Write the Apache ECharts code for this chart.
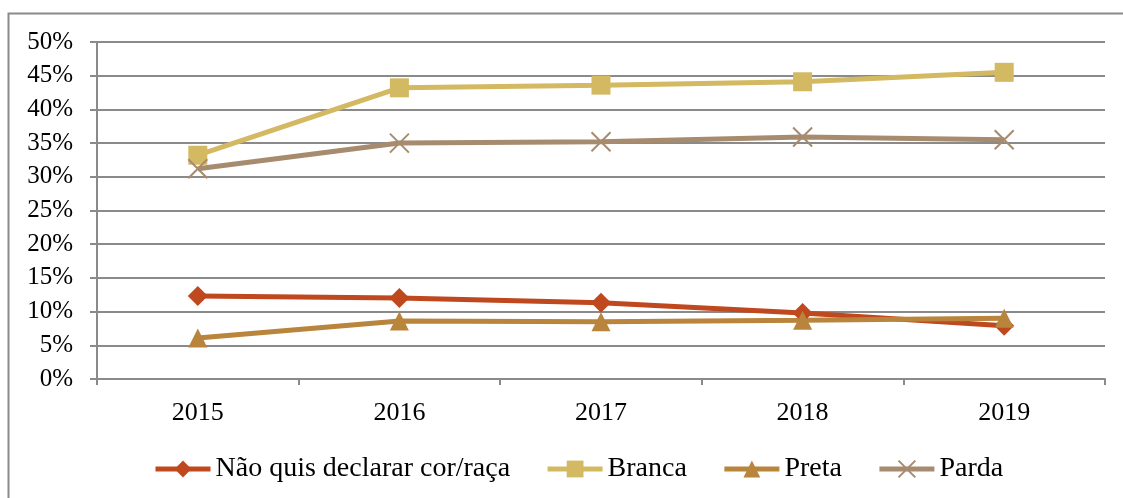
<!DOCTYPE html>
<html><head><meta charset="utf-8">
<script src="https://cdn.jsdelivr.net/npm/echarts@6/dist/echarts.min.js"></script>
<style>html,body{margin:0;padding:0;background:#fff}#c{width:1123px;height:498px}</style>
</head><body><div id="c"></div>
<script>
const categories = ['2015','2016','2017','2018','2019'];
const naoQuis = [12.3, 12.0, 11.3, 9.8, 7.9];
const branca = [33.2, 43.2, 43.6, 44.1, 45.5];
const preta = [6.1, 8.6, 8.5, 8.7, 9.0];
const parda = [31.2, 35.0, 35.2, 35.9, 35.5];
const seriesNames = ['Não quis declarar cor/raça','Branca','Preta','Parda'];
const yTicks = [0,5,10,15,20,25,30,35,40,45,50];

const font = '"Liberation Serif", "Times New Roman", serif';
const chart = echarts.init(document.getElementById('c'));
function mk(name, data, color, symbol, size, extra) {
  return Object.assign({
    name, type: 'line', data, symbol, symbolSize: size,
    lineStyle: {color, width: 5},
    itemStyle: {color},
    emphasis: {disabled: true}
  }, extra || {});
}
chart.setOption({
  animation: false,
  graphic: [{type:'rect', shape:{x:8.5,y:13.5,width:1300,height:700}, style:{fill:'none', stroke:'#8a8a8a', lineWidth:2}}],
  grid: {left: 97, right: 18, top: 42, bottom: 119},
  legend: {
    left: 148, top: 450, itemWidth: 55, itemHeight: 21, itemGap: 35,
    lineStyle: {width: 5},
    textStyle: {fontFamily: font, fontSize: 28, color: '#000'},
    data: seriesNames
  },
  xAxis: {
    type: 'category', data: categories, boundaryGap: true,
    axisLine: {lineStyle: {color: '#8a8a8a', width: 2}},
    axisTick: {show: true, length: 6, lineStyle: {color: '#8a8a8a', width: 2}},
    axisLabel: {fontFamily: font, fontSize: 26, color: '#000', margin: 21}
  },
  yAxis: {
    type: 'value', min: 0, max: 50, interval: 5,
    axisLine: {show: true, lineStyle: {color: '#8a8a8a', width: 2}},
    axisTick: {show: true, length: 7, lineStyle: {color: '#8a8a8a', width: 2}},
    axisLabel: {fontFamily: font, fontSize: 25, color: '#000', margin: 24, formatter: v => yTicks.includes(v) ? v + '%' : ''},
    splitLine: {lineStyle: {color: '#8a8a8a', width: 2}}
  },
  series: [
    mk(seriesNames[0], naoQuis, '#BF481E', 'diamond', 20),
    mk(seriesNames[1], branca, '#D4B963', 'rect', 19),
    mk(seriesNames[2], preta, '#B9843B', 'triangle', 19),
    mk(seriesNames[3], parda, '#A78B6F', 'path://M0,0L10,10M10,0L0,10', 19,
       {itemStyle: {color: '#A78B6F', borderColor: '#A78B6F', borderWidth: 2}})
  ]
});
</script></body></html>
